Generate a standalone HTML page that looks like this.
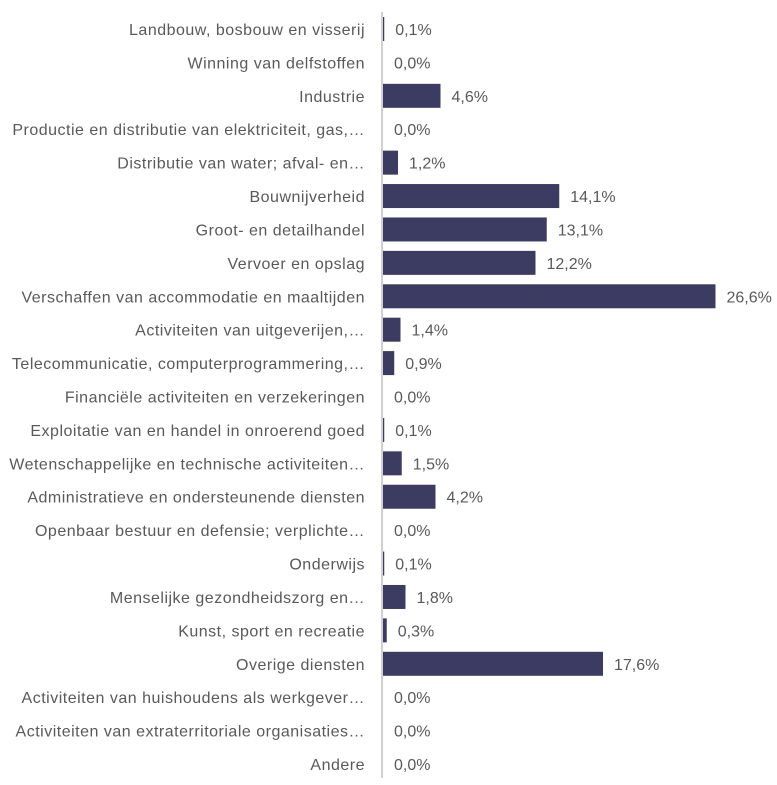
<!DOCTYPE html>
<html><head><meta charset="utf-8"><style>
html,body{margin:0;padding:0;background:#fff;}
svg text{font-family:"Liberation Sans",sans-serif;font-size:16px;fill:#595959;}
svg text.c{letter-spacing:0.5px;}
</style></head><body>
<svg width="777" height="780" xmlns="http://www.w3.org/2000/svg">
<line x1="382" y1="12" x2="382" y2="778" stroke="#d0d0d0" stroke-width="2"/>
<g id="g"></g>
</svg>
<script>
const d=[["Landbouw, bosbouw en visserij",0.1],["Winning van delfstoffen",0.0],["Industrie",4.6],["Productie en distributie van elektriciteit, gas,…",0.0],["Distributie van water; afval- en…",1.2],["Bouwnijverheid",14.1],["Groot- en detailhandel",13.1],["Vervoer en opslag",12.2],["Verschaffen van accommodatie en maaltijden",26.6],["Activiteiten van uitgeverijen,…",1.4],["Telecommunicatie, computerprogrammering,…",0.9],["Financiële activiteiten en verzekeringen",0.0],["Exploitatie van en handel in onroerend goed",0.1],["Wetenschappelijke en technische activiteiten…",1.5],["Administratieve en ondersteunende diensten",4.2],["Openbaar bestuur en defensie; verplichte…",0.0],["Onderwijs",0.1],["Menselijke gezondheidszorg en…",1.8],["Kunst, sport en recreatie",0.3],["Overige diensten",17.6],["Activiteiten van huishoudens als werkgever…",0.0],["Activiteiten van extraterritoriale organisaties…",0.0],["Andere",0.0]];
let s="";
d.forEach((r,i)=>{const cy=29+i*33.41;const w=r[1]*12.5;
if(w>0)s+=`<rect x="383" y="${cy-12}" width="${w}" height="24" fill="#3c3b61"/>`;
s+=`<text class="c" x="365" y="${cy+6}" text-anchor="end">${r[0]}</text>`;
s+=`<text x="${383+w+11}" y="${cy+6}">${r[1].toFixed(1).replace('.',',')}%</text>`;});
document.getElementById('g').innerHTML=s;
</script>
</body></html>
